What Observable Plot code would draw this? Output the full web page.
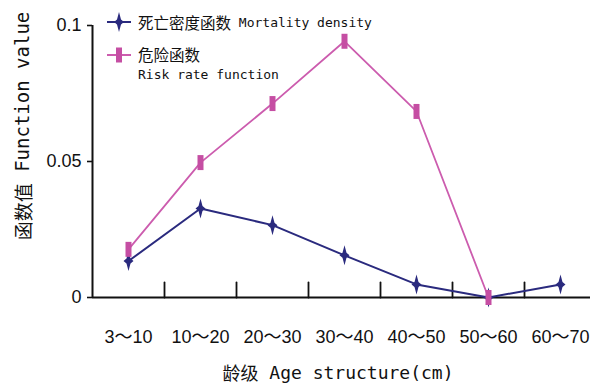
<!DOCTYPE html>
<html>
<head>
<meta charset="utf-8">
<script src="https://cdn.jsdelivr.net/npm/d3@7"></script>
<script src="https://cdn.jsdelivr.net/npm/@observablehq/plot@0.6"></script>
<style>
  html, body { margin: 0; padding: 0; background: #fff; }
  #chart svg { display: block; }
</style>
</head>
<body>
<div id="chart"></div>
<script>
const categories = ["3～10", "10～20", "20～30", "30～40", "40～50", "50～60", "60～70"];
const mortality = [0.0134, 0.0327, 0.0266, 0.0155, 0.0048, 0.0, 0.0048];
const risk = [0.0177, 0.0496, 0.0713, 0.0942, 0.0684, 0.0];
const yTicks = [0, 0.05, 0.1];
const seriesNames = ["死亡密度函数", "Mortality density", "危险函数", "Risk rate function"];
const yLabel = ["函数值", "Function value"];
const xLabel = ["龄级", "Age structure(cm)"];

const navy = "#2a2a7e";
const pinkLine = "#cc5cae";
const pinkMark = "#c54ea3";
const monoFont = "'DejaVu Sans Mono', 'Noto Sans CJK SC', monospace";
const sansFont = "'Liberation Sans', Arial, 'Noto Sans CJK SC', sans-serif";
const cjkFont = "'Noto Sans CJK SC', sans-serif";

const star = {
  draw(ctx) {
    ctx.moveTo(0, -10);
    ctx.lineTo(2, -2.5);
    ctx.lineTo(5, 0);
    ctx.lineTo(2, 2.5);
    ctx.lineTo(0, 10);
    ctx.lineTo(-2, 2.5);
    ctx.lineTo(-5, 0);
    ctx.lineTo(-2, -2.5);
    ctx.closePath();
  }
};
const bar = {
  draw(ctx) {
    ctx.rect(-3, -7.5, 6, 15);
  }
};
const tickShape = {
  draw(ctx, l) {
    ctx.moveTo(0, 0);
    ctx.lineTo(0, -l);
  }
};

const idx = categories.map((c, i) => i);
const boundaries = idx.slice(1).map(i => i - 0.5);
const mData = mortality.map((v, i) => ({i, v}));
const rData = risk.map((v, i) => ({i, v}));

const svg = Plot.plot({
  width: 590,
  height: 384,
  marginLeft: 92,
  marginRight: 0,
  marginTop: 25,
  marginBottom: 87,
  x: {type: "linear", domain: [-0.5, categories.length - 0.5], range: [92, 92 + 72 * categories.length]},
  y: {domain: [0, 0.1]},
  marks: [
    Plot.axisX({ticks: idx, tickSize: 0, tickPadding: 33, tickFormat: i => categories[i], fontSize: 18, fontFamily: sansFont, fill: "#111", label: null}),
    Plot.axisY({ticks: yTicks, tickSize: 5, tickPadding: 6, tickFormat: d3.format("~g"), fontSize: 18, fontFamily: sansFont, fill: "#111", stroke: "#111", strokeWidth: 1.6, label: null}),
    Plot.vector(boundaries, {x: d => d, y: () => 0, length: 15, rotate: 0, anchor: "start", shape: tickShape, stroke: "#111", strokeWidth: 1.8}),
    Plot.ruleY([0], {stroke: "#111", strokeWidth: 2}),
    Plot.ruleX([-0.5], {stroke: "#111", strokeWidth: 2}),
    Plot.line(mData, {x: "i", y: "v", stroke: navy, strokeWidth: 2}),
    Plot.dot(mData, {x: "i", y: "v", symbol: star, fill: navy, stroke: "none", r: 5}),
    Plot.line(rData, {x: "i", y: "v", stroke: pinkLine, strokeWidth: 1.8}),
    Plot.dot(rData, {x: "i", y: "v", symbol: bar, fill: pinkMark, stroke: "none", r: 5})
  ]
});

const s = d3.select(svg);

function symbolPath(sym) {
  const p = d3.path();
  sym.draw(p, 0);
  return p.toString();
}

// legend
const lg = s.append("g").attr("text-anchor", "start");
lg.append("line").attr("x1", 107).attr("x2", 131).attr("y1", 22).attr("y2", 22).attr("stroke", navy).attr("stroke-width", 2);
lg.append("path").attr("d", symbolPath(star)).attr("transform", "translate(119,22)").attr("fill", navy);
const t1 = lg.append("text").attr("x", 138).attr("y", 22).attr("text-anchor", "start").attr("dominant-baseline", "central").attr("fill", "#111");
t1.append("tspan").attr("font-family", cjkFont).attr("font-size", 15.5).text(seriesNames[0]);
t1.append("tspan").attr("font-family", monoFont).attr("font-size", 13).text(" " + seriesNames[1]);

lg.append("line").attr("x1", 107).attr("x2", 131).attr("y1", 55).attr("y2", 55).attr("stroke", pinkLine).attr("stroke-width", 2);
lg.append("path").attr("d", symbolPath(bar)).attr("transform", "translate(119,55)").attr("fill", pinkMark);
lg.append("text").attr("x", 138).attr("y", 54).attr("text-anchor", "start").attr("dominant-baseline", "central").attr("fill", "#111")
  .attr("font-family", cjkFont).attr("font-size", 15.5).text(seriesNames[2]);
lg.append("text").attr("x", 138).attr("y", 74).attr("text-anchor", "start").attr("dominant-baseline", "central").attr("fill", "#111")
  .attr("font-family", monoFont).attr("font-size", 13).text(seriesNames[3]);

// axis titles
const yt = s.append("text").attr("transform", "translate(22,126) rotate(-90)").attr("text-anchor", "middle")
  .attr("dominant-baseline", "central").attr("fill", "#111");
yt.append("tspan").attr("font-family", cjkFont).attr("font-size", 19).text(yLabel[0]);
yt.append("tspan").attr("font-family", monoFont).attr("font-size", 19).text(" " + yLabel[1]);

const xt = s.append("text").attr("x", 338).attr("y", 372).attr("text-anchor", "middle")
  .attr("dominant-baseline", "central").attr("fill", "#111");
xt.append("tspan").attr("font-family", cjkFont).attr("font-size", 18).text(xLabel[0]);
xt.append("tspan").attr("font-family", monoFont).attr("font-size", 18).text(" " + xLabel[1]);

document.getElementById("chart").appendChild(svg);
</script>
</body>
</html>
